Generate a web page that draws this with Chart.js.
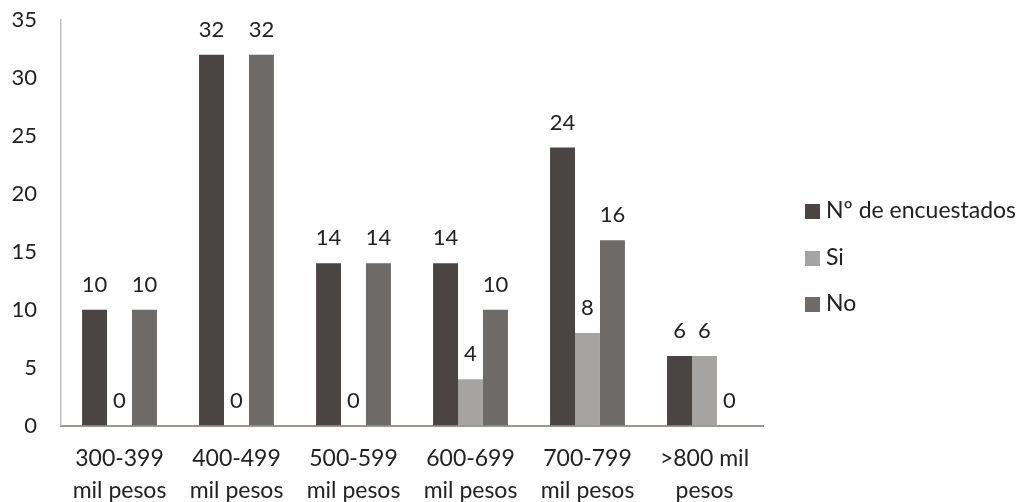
<!DOCTYPE html>
<html>
<head>
<meta charset="utf-8">
<script src="https://cdn.jsdelivr.net/npm/chart.js@4"></script>
<style>
  html, body { margin: 0; padding: 0; background: #fff; overflow: hidden; height: 502px; }
  #chart-container { position: relative; width: 1025px; height: 507px; }
  #legend { position: absolute; left: 805px; top: 191px; font-family: Lato, sans-serif; font-size: 23px; color: #222; }
  #legend div { height: 46.5px; line-height: 36px; white-space: nowrap; }
  #legend span { display: inline-block; width: 15px; height: 15px; margin-right: 6px; vertical-align: -1px; }
</style>
</head>
<body>
<div id="chart-container">
  <canvas id="chart"></canvas>
  <div id="legend"></div>
</div>
<script>
const categories = [
    ["300-399", "mil pesos"],
    ["400-499", "mil pesos"],
    ["500-599", "mil pesos"],
    ["600-699", "mil pesos"],
    ["700-799", "mil pesos"],
    [">800 mil", "pesos"]
];
const seriesNames = ["Nº de encuestados", "Si", "No"];
const encuestados = [10, 32, 14, 14, 24, 6];
const si = [0, 0, 0, 4, 8, 6];
const no = [10, 32, 14, 10, 16, 0];
const seriesColors = ["#4a4542", "#a6a4a3", "#6e6a68"];

const fontFamily = "Lato, 'DejaVu Sans', sans-serif";

// numbers above every bar
const barLabels = {
    id: "barLabels",
    afterDatasetsDraw(chart) {
        const ctx = chart.ctx;
        ctx.save();
        ctx.font = "22px " + fontFamily;
        ctx.fillStyle = "#222";
        ctx.textAlign = "center";
        ctx.textBaseline = "bottom";
        chart.data.datasets.forEach((ds, i) => {
            chart.getDatasetMeta(i).data.forEach((bar, j) => {
                ctx.fillText(ds.data[j], bar.x, bar.y - 14);
            });
        });
        ctx.restore();
    }
};

const ctx = document.getElementById("chart").getContext("2d");

const chart = new Chart(ctx, {
    type: "bar",
    data: {
        labels: categories,
        datasets: [
            { label: seriesNames[0], data: encuestados, backgroundColor: seriesColors[0] },
            { label: seriesNames[1], data: si, backgroundColor: seriesColors[1] },
            { label: seriesNames[2], data: no, backgroundColor: seriesColors[2] }
        ]
    },
    options: {
        responsive: true,
        maintainAspectRatio: false,
        animation: false,
        categoryPercentage: 0.64,
        barPercentage: 1,
        layout: { padding: { top: 20, left: 0, right: 262, bottom: 0 } },
        plugins: {
            tooltip: { enabled: false },
            legend: { display: false }
        },
        scales: {
            x: {
                // hidden tick marks just give the gap under the axis line
                grid: { display: false, drawTicks: true, tickLength: 17 },
                border: { display: true, color: "#9a9694", width: 2 },
                ticks: {
                    color: "#222",
                    padding: 0,
                    maxRotation: 0,
                    font: { family: fontFamily, size: 23, lineHeight: 1.4 }
                }
            },
            y: {
                min: 0,
                max: 35,
                grid: { display: false, drawTicks: true, tickLength: 24 },
                border: { display: true, color: "#c2bfbd", width: 1.5 },
                afterFit(scale) { scale.width = 61; },
                ticks: {
                    stepSize: 5,
                    color: "#222",
                    padding: 0,
                    font: { family: fontFamily, size: 22, lineHeight: 0.2 }
                }
            }
        }
    },
    plugins: [barLabels]
});

// legend beside the chart, built from the datasets
const legendBox = document.getElementById("legend");
chart.data.datasets.forEach(ds => {
    const row = document.createElement("div");
    const swatch = document.createElement("span");
    swatch.style.background = ds.backgroundColor;
    row.appendChild(swatch);
    row.appendChild(document.createTextNode(ds.label));
    legendBox.appendChild(row);
});
</script>
</body>
</html>
